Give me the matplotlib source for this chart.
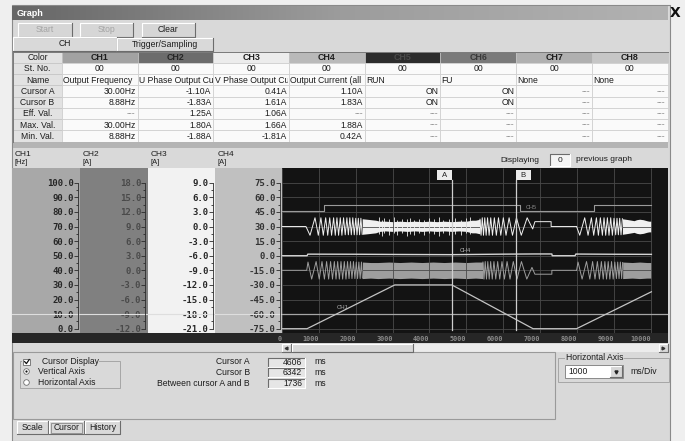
import matplotlib
matplotlib.use("Agg")
import matplotlib.pyplot as plt
import numpy as np
from matplotlib.colors import LinearSegmentedColormap
from matplotlib.patches import Circle, Rectangle

plt.rcParams["font.family"] = ["Liberation Sans", "DejaVu Sans"]

W, H = 685, 441
MONO = "DejaVu Sans Mono"
FS = 6.2
INK = "#1c1c1c"
BG = "#d9d9d9"

# ---------------------------------------------------------------- table data
channels = ["CH1", "CH2", "CH3", "CH4", "CH5", "CH6", "CH7", "CH8"]
row_labels = ["Color", "St. No.", "Name", "Cursor A", "Cursor B",
              "Eff. Val.", "Max. Val.", "Min. Val."]
station_no = ["00"] * 8
# names as far as the grid cells show them
signal_names = ["Output Frequency", "U Phase Output Cu", "V Phase Output Cu",
                "Output Current (all", "RUN", "FU", "None", "None"]
cursor_a_vals = ["30.00Hz", "-1.10A", "0.41A", "1.10A", "ON", "ON", "---", "---"]
cursor_b_vals = ["8.88Hz", "-1.83A", "1.61A", "1.83A", "ON", "ON", "---", "---"]
eff_vals = ["---", "1.25A", "1.06A", "---", "---", "---", "---", "---"]
max_vals = ["30.00Hz", "1.80A", "1.66A", "1.88A", "---", "---", "---", "---"]
min_vals = ["8.88Hz", "-1.88A", "-1.81A", "0.42A", "---", "---", "---", "---"]
channel_colors = ["#a2a2a2", "#6c6c6c", "#ececec", "#b9b9b9",
                  "#2c2c2c", "#7a7a7a", "#b0b0b0", "#c6c6c6"]
header_ink = ["#1e1e1e", "#262626", "#1e1e1e", "#1e1e1e",
              "#4a4a4a", "#3a3a3a", "#1e1e1e", "#1e1e1e"]

# ---------------------------------------------------------------- scale data
scale_names = ["CH1", "CH2", "CH3", "CH4"]
scale_units = ["[Hz]", "[A]", "[A]", "[A]"]
scale_min = [0.0, -12.0, -21.0, -75.0]
scale_step = [10.0, 3.0, 3.0, 15.0]
strip_colors = ["#a8a8a8", "#808080", "#f2f2f2", "#c0c0c0"]
strip_ink = ["#262626", "#4a4a4a", "#262626", "#333333"]

time_ticks = list(range(0, 10001, 1000))
cursor_a_ms = 4606
cursor_b_ms = 6342
trigger_hz = 10.0

# ---------------------------------------------------------------- traces (ms)
freq_t = [0, 680, 3060, 4606, 6810, 7990, 10020]
freq_hz = [0, 0, 30, 30, 0, 0, 25.3]

run_t = [0, 1130, 6450, 8455, 10020]
run_on = [0, 1, 0, 1, 1]

current_t = [0, 680, 700, 2000, 3100, 4600, 6000, 6850, 7320, 7330, 7950, 7970, 9000, 10020]
current_a = [0, 0, 1.6, 1.5, 1.3, 1.1, 1.6, 1.8, 1.8, 0, 0, 1.7, 1.5, 1.4]

# CH3  V phase current
v_accel_t = [0, 650, 760, 895, 985, 1055, 1120, 1185, 1240, 1295, 1345, 1400,
             1445, 1490, 1535, 1580, 1625, 1670, 1715, 1760, 1800, 1840,
             1880, 1920, 1960, 2000, 2035, 2070, 2105, 2140, 2175]
v_accel_a = [0, 0, -1.8, 1.8, -1.8, 1.8, -1.8, 1.8, -1.8, 1.8, -1.8, 1.8,
             -1.8, 1.8, -1.8, 1.8, -1.8, 1.8, -1.7, 1.8, -1.7, 1.8,
             -1.7, 1.8, -1.7, 1.7, -1.7, 1.7, -1.7, 1.7, -1.6]
v_band_t = [2175, 2300, 2420, 2540, 2650, 2800, 3000, 3200, 3400, 3600,
            3800, 4000, 4200, 4400, 4600, 4800, 5000, 5150, 5250, 5370]
v_band_hi = [1.6, 1.5, 1.4, 1.3, 1.1, 1.1, 1.0, 1.1, 1.0, 1.1,
             1.0, 1.1, 1.0, 1.1, 1.0, 1.1, 1.1, 1.3, 1.3, 1.5]
v_band_lo = [-1.6, -1.5, -1.4, -1.3, -1.0, -0.9, -1.0, -0.9, -1.0, -0.9,
             -1.0, -0.9, -1.0, -0.9, -1.0, -0.9, -1.0, -1.3, -1.3, -1.5]
v_spike_t = [2620, 2700, 2780, 2900, 3050, 3130, 3260, 3380, 3470, 3590, 3720,
             3850, 3990, 4120, 4260, 4380, 4520, 4700, 4850, 4980, 5090]
v_spike_hi = [1.9, 1.4, 1.7, 1.5, 1.9, 1.3, 1.6, 1.5, 1.8, 1.3, 1.6,
              1.4, 1.7, 1.5, 1.9, 1.3, 1.6, 1.8, 1.4, 1.7, 1.9]
v_spike_lo = [-1.5, -1.9, -1.3, -1.7, -1.4, -1.8, -1.3, -1.9, -1.5, -1.7, -1.4,
              -1.8, -1.3, -1.6, -1.9, -1.4, -1.7, -1.5, -1.8, -1.4, -1.6]
v_decel_t = [5370, 5400, 5432, 5465, 5500, 5537, 5576, 5618, 5662, 5709,
             5760, 5814, 5872, 5935, 6003, 6077, 6160, 6252, 6360, 6490,
             6650, 6800, 6860, 7300, 7300, 7990]
v_decel_a = [1.5, -1.8, 1.8, -1.8, 1.8, -1.8, 1.8, -1.8, 1.8, -1.8,
             1.8, -1.8, 1.8, -1.8, 1.8, -1.8, 1.8, -1.8, 1.8, -1.8,
             1.8, -0.5, 1.0, 1.0, 0.0, 0.0]
v_reaccel_t = [7990, 8076, 8211, 8302, 8392, 8455, 8528, 8582, 8636, 8690, 8735,
               8780, 8826, 8870, 8916, 8961, 9006, 9051, 9087, 9124, 9160, 9196, 9233]
v_reaccel_a = [0, -1.8, 1.8, -1.8, 1.8, -1.8, 1.8, -1.8, 1.8, -1.8, 1.8,
               -1.8, 1.8, -1.8, 1.8, -1.8, 1.7, -1.7, 1.7, -1.7, 1.7, -1.7, 1.6]
v_end_t = [9233, 9400, 9550, 9620, 9700, 9800, 9890, 9950, 10020]
v_end_hi = [1.6, 1.4, 1.2, 1.4, 1.5, 1.4, 1.2, 1.1, 1.1]
v_end_lo = [-1.6, -1.4, -1.2, -1.4, -1.5, -1.4, -1.2, -1.1, -1.1]

# CH2  U phase current
u_accel_t = [0, 670, 705, 805, 925, 1010, 1085, 1150, 1210, 1265, 1318, 1370,
             1420, 1465, 1510, 1555, 1600, 1645, 1690, 1735, 1778, 1818,
             1858, 1898, 1938, 1978, 2015, 2050, 2085, 2120, 2155, 2180]
u_accel_a = [0, 0, 1.7, -1.8, 1.8, -1.8, 1.8, -1.8, 1.8, -1.8, 1.8, -1.8,
             1.8, -1.8, 1.8, -1.8, 1.8, -1.8, 1.8, -1.8, 1.8, -1.7,
             1.8, -1.7, 1.8, -1.7, 1.7, -1.7, 1.7, -1.7, 1.7, -1.6]
u_band_t = [2180, 2400, 2600, 2900, 3200, 3500, 3800, 4100, 4400, 4700, 5000, 5250, 5450]
u_band_hi = [1.7, 1.6, 1.6, 1.7, 1.6, 1.7, 1.6, 1.7, 1.6, 1.7, 1.6, 1.7, 1.7]
u_band_lo = [-1.7, -1.6, -1.7, -1.6, -1.7, -1.6, -1.7, -1.6, -1.7, -1.6, -1.7, -1.6, -1.7]
u_decel_t = [5450, 5480, 5512, 5546, 5582, 5620, 5660, 5703, 5749, 5798,
             5850, 5906, 5967, 6033, 6105, 6185, 6274, 6375, 6495, 6640,
             6780, 6860, 7320, 7320, 7990]
u_decel_a = [1.7, -1.8, 1.8, -1.8, 1.8, -1.8, 1.8, -1.8, 1.8, -1.8,
             1.8, -1.8, 1.8, -1.8, 1.8, -1.8, 1.8, -1.8, 1.8, -1.8,
             0.6, -0.8, -0.8, 0.0, 0.0]
u_reaccel_t = [7990, 8030, 8140, 8260, 8350, 8425, 8490, 8555, 8610, 8663, 8713, 8758,
               8803, 8848, 8893, 8938, 8983, 9028, 9070, 9106, 9142, 9178, 9214, 9240]
u_reaccel_a = [0, 1.7, -1.8, 1.8, -1.8, 1.8, -1.8, 1.8, -1.8, 1.8, -1.8, 1.8,
               -1.8, 1.8, -1.8, 1.8, -1.8, 1.7, -1.7, 1.7, -1.7, 1.7, -1.7, 1.6]
u_end_t = [9240, 9500, 9700, 9900, 10020]
u_end_hi = [1.7, 1.6, 1.7, 1.6, 1.6]
u_end_lo = [-1.7, -1.6, -1.7, -1.6, -1.6]

# cursor panel
cursor_rows = ["Cursor A", "Cursor B", "Between cursor A and B"]
cursor_ms = [cursor_a_ms, cursor_b_ms, cursor_b_ms - cursor_a_ms]
bottom_tabs = ["Scale", "Cursor", "History"]
ms_per_div = "1000"

# ---------------------------------------------------------------- helpers
fig = plt.figure(figsize=(W / 100, H / 100), dpi=100)
fig.patch.set_facecolor("#efefef")
ui = fig.add_axes([0, 0, 1, 1], zorder=0)
ui.axis("off")


def px_axes(x0, y0, x1, y1, z=2):
    return fig.add_axes([x0 / W, 1 - y1 / H, (x1 - x0) / W, (y1 - y0) / H], zorder=z)


def rect(x0, y0, x1, y1, face, edge="none", lw=0.6, z=1):
    ui.add_patch(Rectangle((x0, y0), x1 - x0, y1 - y0, facecolor=face,
                           edgecolor=edge, linewidth=lw, zorder=z))


def bevel(x0, y0, x1, y1, sunken=False, z=3):
    light, dark = "#ffffff", "#6c6c6c"
    if sunken:
        light, dark = dark, light
    ui.plot([x0, x0, x1], [y1, y0, y0], color=light, lw=0.8, zorder=z)
    ui.plot([x0, x1, x1], [y1, y1, y0], color=dark, lw=0.8, zorder=z)


def txt(x, y, s, size=FS, ha="left", color=INK, **kw):
    return ui.text(x, y, s, fontsize=size, ha=ha, va="center", color=color, zorder=6, **kw)


# ---------------------------------------------------------------- window chrome
rect(12, 5, 670, 441, BG, edge="#8a8a8a", lw=0.8)
grad = LinearSegmentedColormap.from_list("title", ["#666666", "#9c9c9c", "#b2b2b2"])
ui.imshow(np.linspace(0, 1, 256)[None, :], extent=(12, 668, 20, 6), cmap=grad,
          aspect="auto", zorder=2)
txt(17, 13.5, "Graph", size=6.6, color="white", weight="bold")
ui.text(675, 13, "X", fontsize=10, ha="center", va="center", weight="bold",
        color="#111111", family="DejaVu Sans")

for (x0, x1), name, ink in zip([(18, 72), (80, 133), (142, 195)],
                               ["Start", "Stop", "Clear"],
                               ["#a4a4a4", "#a4a4a4", INK]):
    rect(x0, 23, x1, 36.5, "#d6d6d6", z=2)
    bevel(x0, 23, x1, 36.5)
    txt((x0 + x1) / 2, 30, name, ha="center", color=ink)

bevel(13, 37, 117, 51)
bevel(117, 38, 213, 51)
txt(65, 44, "CH", ha="center")
txt(165, 44.5, "Trigger/Sampling", ha="center")

# ---------------------------------------------------------------- channel table
TX0, LAB_W, COL_W = 13, 49, 75.7
TY0, ROW_H = 51.5, 11.25
body_rows = [station_no, signal_names, cursor_a_vals, cursor_b_vals,
             eff_vals, max_vals, min_vals]
for r, name in enumerate(row_labels):
    y = TY0 + r * ROW_H
    rect(TX0, y, TX0 + LAB_W, y + ROW_H, "#e2e2e2", edge="#c4c4c4", lw=0.5, z=2)
    txt(TX0 + LAB_W / 2, y + ROW_H / 2 + 0.4, name, ha="center")
    for c in range(8):
        x = TX0 + LAB_W + c * COL_W
        if r == 0:
            rect(x, y, x + COL_W, y + ROW_H, channel_colors[c], edge="#c4c4c4", lw=0.5, z=2)
            txt(x + COL_W / 2, y + ROW_H / 2 + 0.4, channels[c], ha="center",
                color=header_ink[c], weight="bold", size=6.4)
            continue
        rect(x, y, x + COL_W, y + ROW_H, "#fafafa", edge="#cdcdcd", lw=0.5, z=2)
        s = body_rows[r - 1][c]
        yc = y + ROW_H / 2 + 0.4
        if r == 1:
            txt(x + COL_W / 2, yc, s, ha="center")
        elif r == 2:
            t = txt(x + 1.2, yc, s, clip_on=True)
            clip = Rectangle((x, y), COL_W - 0.8, ROW_H, transform=ui.transData)
            t.set_clip_path(clip)
        else:
            txt(x + COL_W - 2, yc, s, ha="right",
                color="#8e8e8e" if s == "---" else INK)
rect(TX0, TY0 + 8 * ROW_H, 668, TY0 + 8 * ROW_H + 6, "#b4b4b4", z=2)
ui.plot([TX0, 668], [TY0, TY0], color="#7a7a7a", lw=0.7, zorder=3)
ui.plot([TX0, TX0], [TY0, TY0 + 8 * ROW_H], color="#7a7a7a", lw=0.7, zorder=3)

# ---------------------------------------------------------------- chart header
strip_x = [12, 80, 147.5, 215, 282]
for i in range(4):
    txt(strip_x[i] + 3, 155, scale_names[i], size=6)
    txt(strip_x[i] + 3, 162.5, scale_units[i], size=5.4)
txt(500, 160, "Displaying", size=6)
rect(550, 154, 570, 165.5, "#f4f4f4", z=2)
bevel(550, 154, 570, 165.5, sunken=True)
txt(560, 160, "0", ha="center", size=6)
txt(576, 159.5, "previous graph", size=6)

# dark strip under scales and plot
rect(12, 333, 668, 343, "#262626", z=1)

# ---------------------------------------------------------------- scale strips
for i in range(4):
    sa = px_axes(strip_x[i], 168, strip_x[i + 1], 333)
    lo, st = scale_min[i], scale_step[i]
    sa.set_facecolor(strip_colors[i])
    sa.set_xlim(0, 1)
    sa.set_ylim(lo - 0.295 * st, lo + 11.01 * st)
    sa.set_xticks([])
    ticks = lo + st * np.arange(11)
    sa.set_yticks(ticks)
    sa.set_yticklabels([f"{v:.1f}" for v in ticks])
    sa.set_yticks(lo + st * (np.arange(10) + 0.5), minor=True)
    for side in ["left", "top", "bottom"]:
        sa.spines[side].set_visible(False)
    sp = sa.spines["right"]
    sp.set_position(("axes", 0.97))
    sp.set_bounds(lo, lo + 10 * st)
    sp.set_linewidth(0.6)
    sp.set_color("#2a2a2a")
    sa.yaxis.tick_right()
    sa.tick_params(axis="y", which="both", direction="in", color="#2a2a2a",
                   width=0.6, pad=-3.0, labelsize=6.5, labelcolor=strip_ink[i])
    sa.tick_params(axis="y", which="major", length=3)
    sa.tick_params(axis="y", which="minor", length=1.6)
    for lab in sa.get_yticklabels():
        lab.set_ha("right")
        lab.set_fontfamily(MONO)
        lab.set_fontweight("bold")
    sa.axhline(lo + st * trigger_hz / scale_step[0], color="#dedede", lw=0.8)


# ---------------------------------------------------------------- main plot
def div(values, ch):
    return (np.asarray(values, dtype=float) - scale_min[ch]) / scale_step[ch]


MS_PX = (cursor_b_ms - cursor_a_ms) / 64.0
ax = px_axes(282, 168, 668, 333, z=3)
ax.set_facecolor("#131313")
ax.set_xlim(0, 386 * MS_PX)
ax.set_ylim(-0.295, 11.01)
ax.hlines(range(11), 0, time_ticks[-1], color="#4a4a4a", lw=0.6)
ax.vlines(time_ticks, -0.295, 11.01, color="#4a4a4a", lw=0.6)
ax.axhline(div(trigger_hz, 0), color="#a6a6a6", lw=0.9)
for s in ax.spines.values():
    s.set_visible(False)
ax.set_yticks([])
ax.set_xticks(time_ticks)
ax.set_xticklabels([str(t) for t in time_ticks])
ax.tick_params(axis="x", length=0, pad=2.2, labelsize=4.9, labelcolor="#8c8c8c")
for lab in ax.get_xticklabels():
    lab.set_ha("right")
    lab.set_fontfamily(MONO)
    lab.set_fontweight("bold")

# CH1 output frequency
ax.plot(freq_t, div(freq_hz, 0), color="#c4c4c4", lw=0.9)
ax.text(1480, div(13.5, 0), "CH1", fontsize=4.3, color="#b0b0b0")

# CH5 RUN (digital)
run_level = 8.06 + 0.41 * np.asarray(run_on)
ax.plot(run_t, run_level, drawstyle="steps-post", color="#9a9a9a", lw=0.8)
ax.text(6620, 8.18, "CH5", fontsize=4.0, color="#8a8a8a")

# CH4 output current
ax.plot(current_t, div(current_a, 3), color="#d4d4d4", lw=1.0)
ax.text(4820, div(current_a[5], 3) + 0.18, "CH4", fontsize=4.0, color="#b8b8b8")

# CH2 U phase (grey)
ugrey = "#9e9e9e"
for tt, aa in [(u_accel_t, u_accel_a), (u_decel_t, u_decel_a), (u_reaccel_t, u_reaccel_a)]:
    ax.plot(tt, div(aa, 1), color=ugrey, lw=0.7)
for tt, hi, lo in [(u_band_t, u_band_hi, u_band_lo), (u_end_t, u_end_hi, u_end_lo)]:
    ax.fill_between(tt, div(hi, 1), div(lo, 1), color=ugrey, lw=0)

# CH3 V phase (white)
vwhite = "#f0f0f0"
for tt, aa in [(v_accel_t, v_accel_a), (v_decel_t, v_decel_a), (v_reaccel_t, v_reaccel_a)]:
    ax.plot(tt, div(aa, 2), color=vwhite, lw=0.7)
for tt, hi, lo in [(v_band_t, v_band_hi, v_band_lo), (v_end_t, v_end_hi, v_end_lo)]:
    ax.fill_between(tt, div(hi, 2), div(lo, 2), color=vwhite, lw=0)
ax.vlines(v_spike_t, div(v_spike_lo, 2), div(v_spike_hi, 2), color=vwhite, lw=0.6)

# cursors A / B
for ms, name, side in [(cursor_a_ms, "A", -1), (cursor_b_ms, "B", 1)]:
    ax.axvline(ms, ymin=0.02, ymax=0.925, color="#cfcfcf", lw=0.9)
    x0 = ms if side > 0 else ms - 15 * MS_PX
    ax.add_patch(Rectangle((x0, 10.18), 15 * MS_PX, 0.7, facecolor="#ececec",
                           edgecolor="none"))
    ax.text(x0 + 7.5 * MS_PX, 10.53, name, fontsize=5.6, ha="center", va="center",
            color="#222222")

# ---------------------------------------------------------------- scrollbar
rect(282, 343.5, 668, 351.5, "#ececec", z=2)
for x0, x1 in [(282, 291), (292, 413), (659, 668)]:
    rect(x0, 343.5, x1, 351.5, "#d8d8d8", z=2)
    bevel(x0, 343.5, x1, 351.5)
ui.plot(286.5, 347.5, marker="<", ms=2.0, color="#333333", zorder=4)
ui.plot(663.5, 347.5, marker=">", ms=2.0, color="#333333", zorder=4)

# ---------------------------------------------------------------- cursor panel
ui.add_patch(Rectangle((13, 352), 542, 67, facecolor="none", edgecolor="#9a9a9a",
                       lw=0.8, zorder=2))
ui.add_patch(Rectangle((20, 361), 100, 27, facecolor="none", edgecolor="#a6a6a6",
                       lw=0.7, zorder=2))
rect(22, 357, 99, 366, BG, z=3)
rect(23.5, 358.5, 30, 365, "#ffffff", edge="#6a6a6a", lw=0.6, z=4)
ui.plot([24.6, 26.4, 29.2], [361.6, 363.6, 359.6], color="#111111", lw=0.9, zorder=5)
txt(42, 361.7, "Cursor Display")
for yy, name, on in [(371.5, "Vertical Axis", True), (382.5, "Horizontal Axis", False)]:
    ui.add_patch(Circle((26.5, yy), 2.8, facecolor="white", edgecolor="#707070",
                        lw=0.6, zorder=4))
    if on:
        ui.add_patch(Circle((26.5, yy), 1.1, facecolor="#111111", zorder=5))
    txt(38, yy, name)

for k, (name, val) in enumerate(zip(cursor_rows, cursor_ms)):
    yy = 362 + 10.5 * k
    txt(250, yy, name, ha="right")
    rect(268, yy - 4.5, 305, yy + 4.5, "#e6e6e6", z=2)
    bevel(268, yy - 4.5, 305, yy + 4.5, sunken=True)
    txt(302, yy + 0.3, str(val), ha="right")
    txt(314, yy, "ms")

for (x0, x1), name in zip([(17, 48), (49, 84), (85, 120)], bottom_tabs):
    bevel(x0, 420.5, x1, 434)
    txt((x0 + x1) / 2, 428, name, ha="center")
ui.add_patch(Rectangle((51, 422.5), 31, 10, facecolor="none", edgecolor="#7a7a7a",
                       lw=0.5, zorder=4))

# horizontal axis group
ui.add_patch(Rectangle((558, 358), 111, 24, facecolor="none", edgecolor="#a6a6a6",
                       lw=0.7, zorder=2))
txt(566, 358, "Horizontal Axis", bbox=dict(facecolor=BG, edgecolor="none", pad=0.4))
rect(565, 365, 623, 377.5, "#ffffff", edge="#7a7a7a", lw=0.6, z=2)
txt(568, 371.5, ms_per_div)
rect(610, 366, 622, 376.5, "#d6d6d6", z=3)
bevel(610, 366, 622, 376.5, z=4)
ui.plot(616, 371.5, marker="v", ms=2.2, color="#222222", zorder=5)
txt(630, 371.2, "ms/Div")

ui.set_xlim(0, W)
ui.set_ylim(H, 0)

fig.savefig("out.png", dpi=100, facecolor=fig.get_facecolor())
